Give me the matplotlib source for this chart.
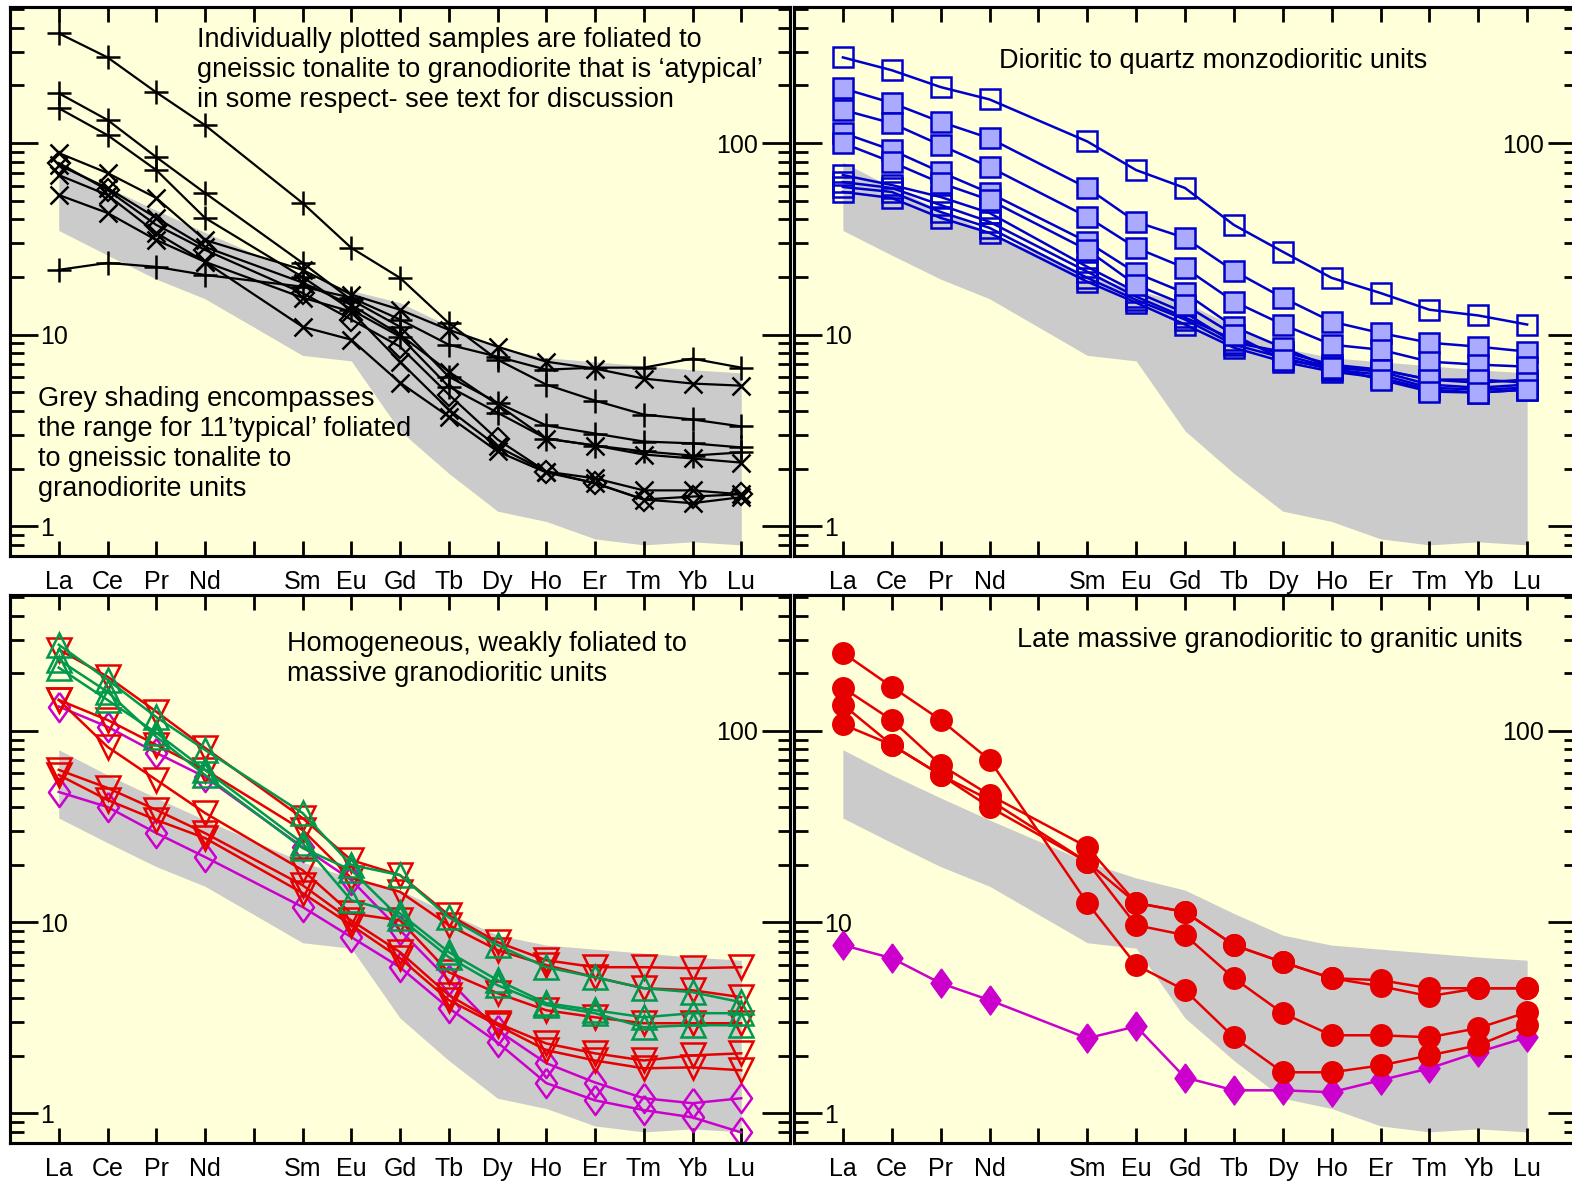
import matplotlib.pyplot as plt
from matplotlib.ticker import NullFormatter

plt.rcParams['font.family'] = ['Liberation Sans', 'DejaVu Sans']

# chondrite-normalised REE; Pm has a slot on the axis but no data
elements = ['La', 'Ce', 'Pr', 'Nd', 'Pm', 'Sm', 'Eu', 'Gd', 'Tb', 'Dy', 'Ho', 'Er', 'Tm', 'Yb', 'Lu']
ree = ['La', 'Ce', 'Pr', 'Nd', 'Sm', 'Eu', 'Gd', 'Tb', 'Dy', 'Ho', 'Er', 'Tm', 'Yb', 'Lu']

# range of the 11 'typical' foliated/gneissic tonalite-granodiorite units
typical_max = [79.6, 58.8, 44.6, 34.2, 20.6, 17.0, 14.7, 11.1, 8.55, 7.58, 7.22, 6.88, 6.56, 6.32]
typical_min = [35.0, 26.0, 19.5, 15.4, 7.8, 7.3, 3.15, 1.89, 1.2, 1.06, 0.86, 0.80, 0.83, 0.80]

# panel a: atypical foliated samples
atyp_plus = [
    [374, 280, 184, 124, 48.7, 28.4, 19.8, 11.5, 7.41, 5.49, 4.53, 3.83, 3.61, 3.32],
    [182, 132, 84.5, 54.9, 23.7, 15.2, 11.0, 6.04, 4.42, 3.36, 3.05, 2.77, 2.71, 2.58],
    [152, 110, 72.3, 40.7, 20.0, 13.5, 9.77, 5.36, 3.92, 2.87, 2.64, 2.46, 2.34, 2.43],
    [21.8, 23.7, 22.6, 20.5, 17.8, 15.6, 12.0, 8.87, 7.68, 6.57, 6.73, 6.73, 7.50, 6.73],
]
atyp_cross = [
    [88.7, 69.8, 51.7, 31.2, 21.8, 16.2, 13.5, 10.6, 8.66, 7.23, 6.65, 5.90, 5.56, 5.42],
    [76.8, 58.3, 40.7, 28.7, 18.7, 14.3, 10.0, 6.42, 4.32, 2.87, 2.64, 2.37, 2.26, 2.15],
    [68.1, 53.6, 34.0, 24.0, 15.6, 13.2, 7.23, 4.07, 2.61, 1.93, 1.78, 1.54, 1.54, 1.47],
    [53.6, 43.2, 31.2, 24.0, 11.0, 9.42, 5.62, 3.74, 2.46, 1.91, 1.68, 1.38, 1.32, 1.42],
]
atyp_diamond = [
    [78.7, 56.9, 37.4, 27.7, 16.5, 12.0, 8.66, 4.87, 2.84, 1.93, 1.68, 1.38, 1.43, 1.47],
]

# panel b: dioritic to quartz monzodioritic units
dior_open = [
    [280, 240, 196, 169, 102, 72.3, 58.3, 37.4, 27.1, 19.8, 16.5, 13.5, 12.6, 11.3],
    [68.1, 60.4, 52.3, 43.2, 22.6, 16.7, 13.0, 9.08, 8.16, 6.98, 6.57, 5.83, 5.62, 5.83],
    [62.6, 58.3, 47.5, 38.8, 21.3, 15.8, 12.3, 9.42, 7.87, 6.73, 6.42, 5.49, 5.29, 5.49],
    [59.0, 55.6, 43.7, 36.1, 19.8, 15.2, 12.0, 8.87, 7.59, 6.57, 6.19, 5.29, 5.17, 5.29],
    [55.6, 51.7, 40.7, 34.0, 18.9, 14.7, 11.3, 8.56, 7.23, 6.42, 5.97, 5.17, 4.99, 5.17],
]
dior_filled = [
    [193, 162, 129, 106, 58.3, 38.8, 32.0, 21.5, 15.6, 11.7, 10.2, 9.08, 8.66, 8.16],
    [149, 127, 97.6, 75.0, 41.2, 28.4, 22.3, 14.9, 11.3, 8.87, 8.35, 7.23, 6.98, 6.81],
    [113, 92.0, 70.6, 54.9, 30.5, 21.0, 16.5, 11.0, 8.56, 6.73, 6.57, 5.83, 5.83, 5.62],
    [100, 79.6, 61.9, 50.5, 27.7, 18.2, 14.3, 10.0, 7.41, 6.73, 5.83, 5.05, 4.99, 5.17],
]

# panel c: homogeneous, weakly foliated to massive granodiorites
homo_red = [
    [266, 192, 126, 81.5, 35.0, 21.1, 17.6, 10.9, 7.86, 6.32, 5.81, 5.81, 5.74, 5.81],
    [145, 114, 84.5, 62.5, 30.3, 17.0, 14.4, 9.64, 7.14, 5.96, 5.15, 4.51, 4.40, 4.05],
    [145, 82.5, 55.4, 37.2, 18.7, 11.1, 10.2, 5.47, 4.25, 3.46, 3.18, 2.96, 2.96, 2.96],
    [62.5, 50.3, 38.6, 29.2, 15.6, 10.2, 6.97, 4.15, 2.96, 2.32, 2.06, 1.89, 2.01, 2.06],
    [58.8, 43.5, 34.2, 27.5, 14.2, 9.64, 6.48, 3.91, 2.89, 2.14, 1.89, 1.72, 1.74, 1.68],
]
homo_green = [
    [282, 185, 118, 79.5, 37.2, 19.9, 17.6, 10.6, 7.58, 5.81, 5.15, 4.51, 4.30, 3.81],
    [214, 145, 97.6, 62.5, 25.9, 13.0, 11.1, 6.97, 4.97, 3.77, 3.46, 3.18, 3.34, 3.34],
    [235, 160, 93.0, 58.8, 24.4, 18.7, 10.5, 6.56, 4.68, 3.68, 3.34, 2.82, 2.89, 2.89],
]
homo_magenta = [
    [134, 105, 76.7, 57.4, 24.7, 16.6, 9.08, 4.97, 2.72, 1.83, 1.45, 1.20, 1.13, 1.20],
    [47.9, 40.0, 29.2, 21.9, 12.0, 8.35, 5.81, 3.55, 2.35, 1.44, 1.17, 1.04, 0.953, 0.795],
]

# panel d: late massive granodioritic to granitic units
late_red = [
    [256, 170, 114, 70.5, 12.6, 5.96, 4.40, 2.50, 1.64, 1.64, 1.78, 2.01, 2.27, 2.89],
    [168, 114, 66.4, 46.2, 24.7, 12.6, 11.3, 7.58, 6.17, 5.09, 4.97, 4.51, 4.51, 4.51],
    [137, 84.5, 58.8, 43.5, 20.6, 9.64, 8.55, 5.09, 3.34, 2.56, 2.56, 2.50, 2.79, 3.38],
    [108, 84.5, 58.8, 40.0, 20.6, 12.6, 11.3, 7.58, 6.17, 5.09, 4.62, 4.10, 4.51, 4.51],
]
late_magenta = [
    [7.58, 6.48, 4.79, 3.91, 2.47, 2.85, 1.54, 1.32, 1.32, 1.29, 1.49, 1.72, 2.09, 2.50],
]

notes = [
    'Individually plotted samples are foliated to\ngneissic tonalite to granodiorite that is \u2018atypical\u2019\nin some respect- see text for discussion',
    'Dioritic to quartz monzodioritic units',
    'Homogeneous, weakly foliated to\nmassive granodioritic units',
    'Late massive granodioritic to granitic units',
]
shade_note = ('Grey shading encompasses\nthe range for 11\u2019typical\u2019 foliated\n'
              'to gneissic tonalite to\ngranodiorite units')

xpos = [elements.index(e) + 1 for e in ree]
xlabels = [e if e != 'Pm' else '' for e in elements]

BG = '#FFFFDA'
RED = '#E60000'
GREEN = '#00994D'
MAGENTA = '#CC00CC'
BLUE = '#0000CC'
# tall diamond as drawn in the original
RHOMB = [(0, 1), (0.72, 0), (0, -1), (-0.72, 0), (0, 1)]

fig = plt.figure(figsize=(15.72, 11.83), dpi=100)
W, H = 1572, 1183
boxes = [(10, 7, 780, 549), (794, 7, 782, 549), (10, 595, 780, 548), (794, 595, 782, 548)]
axes = []
for (x0, y0, w, h) in boxes:
    ax = fig.add_axes([x0 / W, 1 - (y0 + h) / H, w / W, h / H])
    axes.append(ax)


def setup(ax):
    ax.set_facecolor(BG)
    ax.set_yscale('log')
    ax.set_xlim(0, 16)
    ax.set_ylim(0.70, 513)
    for s in ax.spines.values():
        s.set_linewidth(2.2)
    ax.fill_between(xpos, typical_min, typical_max, color='#CBCBCB', lw=0, zorder=1)
    ax.set_xticks(range(1, 16), xlabels)
    ax.tick_params(axis='x', which='major', direction='in', top=True, bottom=True,
                   length=11, width=2, pad=10, labelsize=18)
    minor = [0.8, 0.9] + [m * 10 ** k for k in range(0, 3) for m in range(2, 10) if m * 10 ** k < 510]
    ax.set_yticks([1, 10, 100], ['1', '10', ''])
    ax.set_yticks(minor, minor=True)
    ax.yaxis.set_minor_formatter(NullFormatter())
    ax.tick_params(axis='y', which='major', direction='in', left=True, right=False,
                   length=20, width=2, pad=-22, labelsize=18)
    ax.tick_params(axis='y', which='minor', direction='in', left=True, right=False,
                   length=10, width=2)
    for lab in ax.get_yticklabels():
        lab.set_horizontalalignment('left')
    ax2 = ax.twinx()
    ax2.set_yscale('log')
    ax2.set_ylim(0.70, 513)
    ax2.set_yticks([1, 10, 100], ['', '', '100'])
    ax2.set_yticks(minor, minor=True)
    ax2.yaxis.set_minor_formatter(NullFormatter())
    ax2.tick_params(axis='y', which='major', direction='in', length=20, width=2,
                    pad=-23, labelsize=18)
    ax2.tick_params(axis='y', which='minor', direction='in', length=9, width=2)
    for lab in ax2.get_yticklabels():
        lab.set_horizontalalignment('right')
    for s in ax2.spines.values():
        s.set_linewidth(2.2)


for ax in axes:
    setup(ax)

# panel a
ax = axes[0]
for s in atyp_plus:
    ax.plot(xpos, s, color='k', lw=1.6, marker='+', ms=17, mew=1.8, zorder=3)
for s in atyp_cross:
    ax.plot(xpos, s, color='k', lw=1.6, marker='x', ms=13, mew=1.8, zorder=3)
for s in atyp_diamond:
    ax.plot(xpos, s, color='k', lw=1.6, marker='D', ms=11, mew=1.6, mfc='none', zorder=3)
ax.text(0.240, 0.964, notes[0], transform=ax.transAxes, fontsize=19.5, va='top', ha='left')
ax.text(0.036, 0.309, shade_note, transform=ax.transAxes, fontsize=19.5, va='top', ha='left')

# panel b
ax = axes[1]
for s in dior_open:
    ax.plot(xpos, s, color=BLUE, lw=1.8, marker='s', ms=15, mew=1.8, mfc='none', mec=BLUE, zorder=3)
for s in dior_filled:
    ax.plot(xpos, s, color=BLUE, lw=1.8, marker='s', ms=15, mew=1.8, mfc='#AAAAFF', mec=BLUE, zorder=4)
ax.text(0.262, 0.9025, notes[1], transform=ax.transAxes, fontsize=19.5, va='center', ha='left')

# panel c
ax = axes[2]
for s in homo_magenta:
    ax.plot(xpos, s, color=MAGENTA, lw=1.8, marker=RHOMB, ms=21, mew=1.8, mfc='none', zorder=3)
for s in homo_red:
    ax.plot(xpos, s, color=RED, lw=1.8, marker='v', ms=17, mew=1.8, mfc='none', zorder=4)
for s in homo_green:
    ax.plot(xpos, s, color=GREEN, lw=1.8, marker='^', ms=17, mew=1.8, mfc='none', zorder=5)
ax.text(0.355, 0.935, notes[2], transform=ax.transAxes, fontsize=19.5, va='top', ha='left')

# panel d
ax = axes[3]
for s in late_magenta:
    ax.plot(xpos, s, color=MAGENTA, lw=1.8, marker=RHOMB, ms=21, mew=1, mfc=MAGENTA, zorder=3)
for s in late_red:
    ax.plot(xpos, s, color=RED, lw=1.8, marker='o', ms=15.5, mew=1, mfc=RED, mec=RED, zorder=4)
ax.text(0.285, 0.917, notes[3], transform=ax.transAxes, fontsize=19.5, va='center', ha='left')

fig.savefig('out.png', dpi=100, facecolor='white')
